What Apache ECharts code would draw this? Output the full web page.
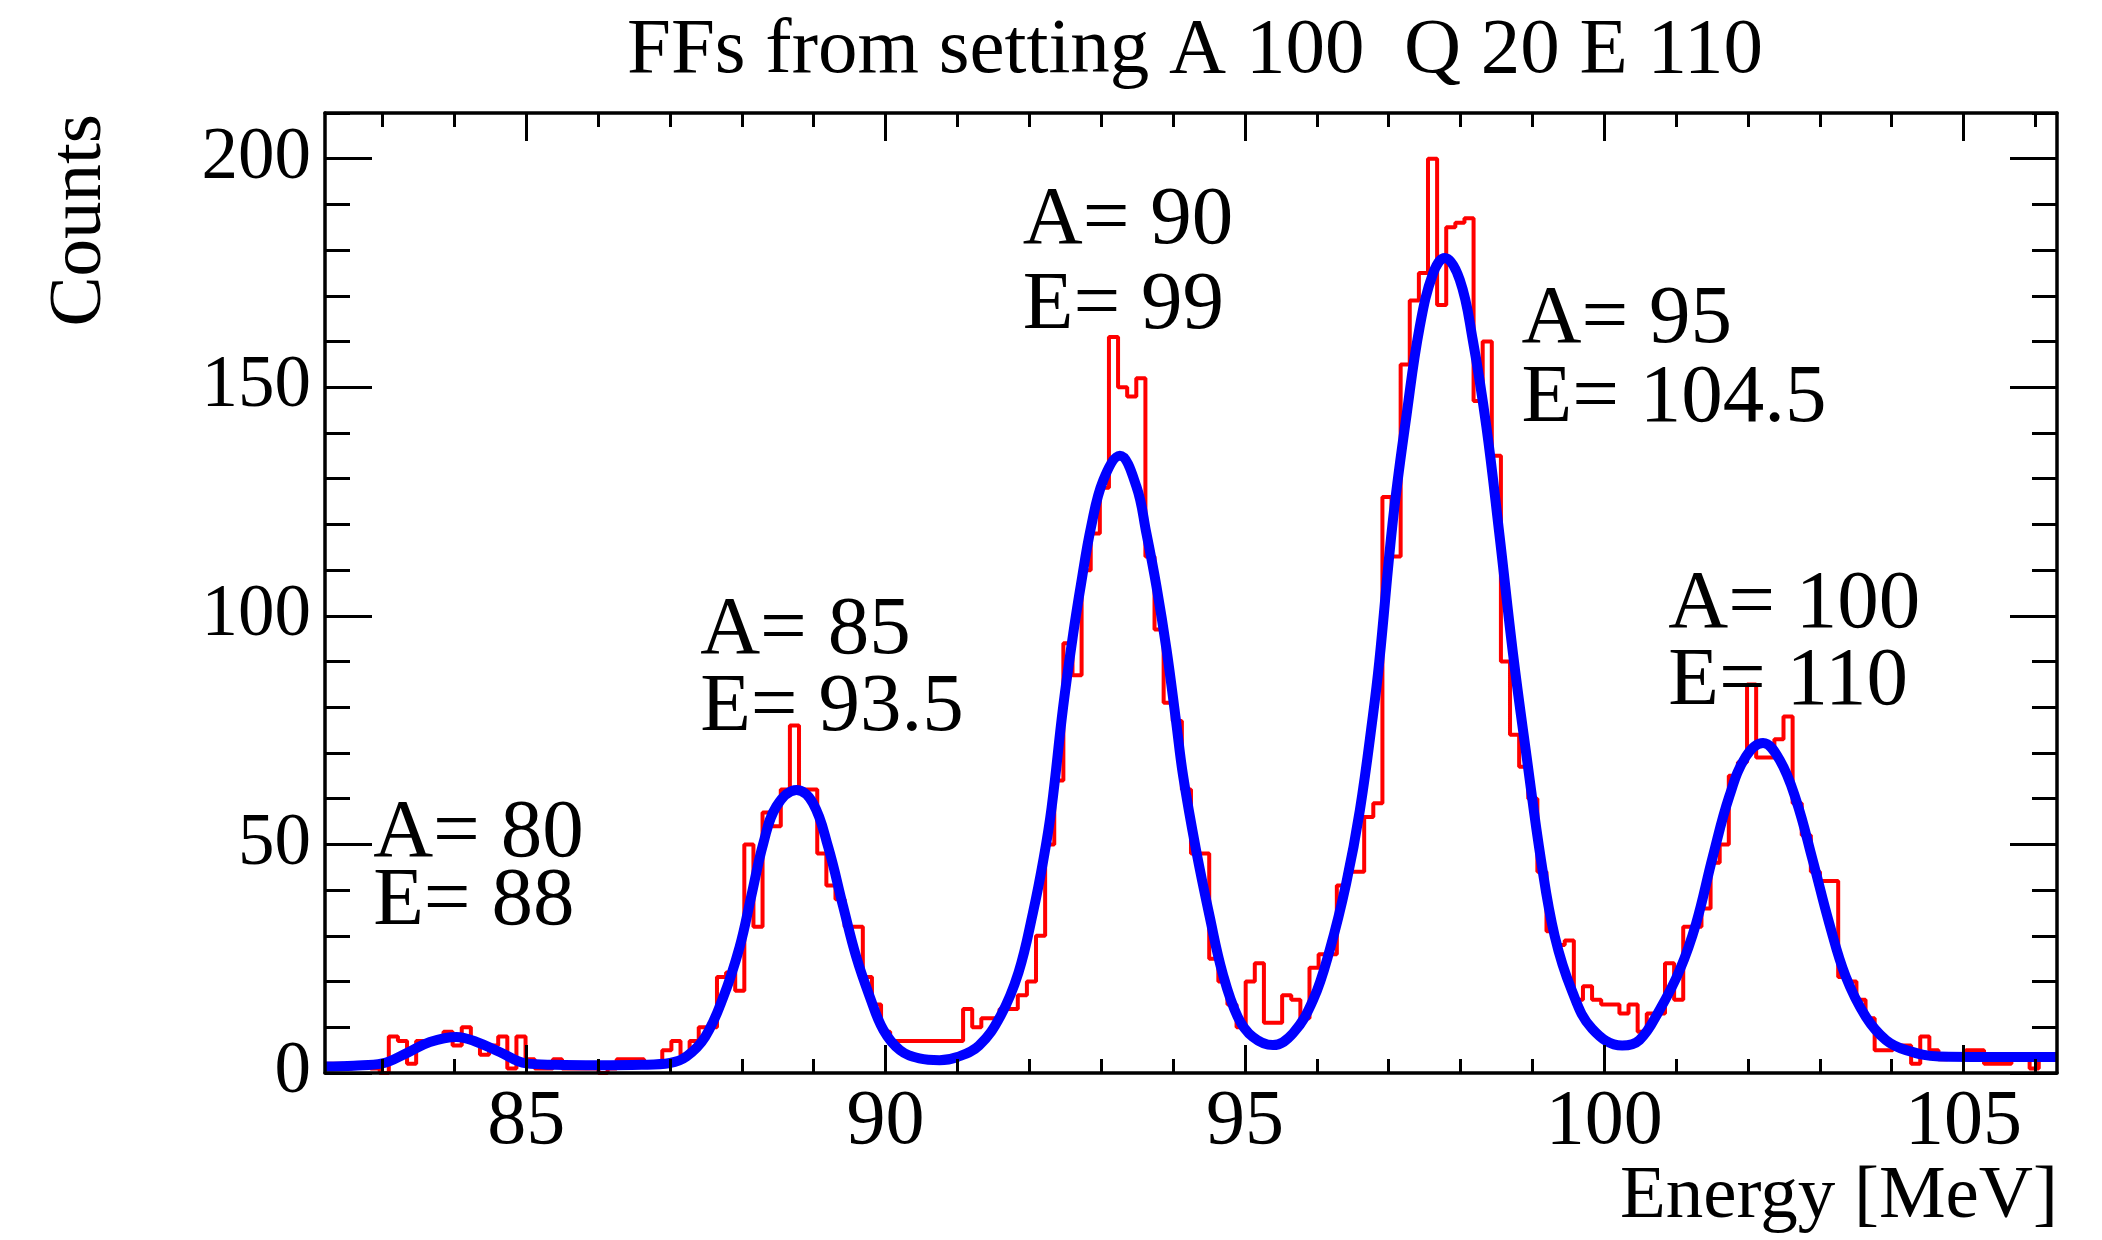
<!DOCTYPE html>
<html><head><meta charset="utf-8">
<script src="https://cdn.jsdelivr.net/npm/echarts@6/dist/echarts.min.js"></script>
<style>html,body{margin:0;padding:0;background:#fff}#c{width:2102px;height:1240px}</style>
</head><body><div id="c"></div>
<script>
// ---- data ----
const titleText = 'FFs from setting A 100  Q 20 E 110';
const xTitle = 'Energy [MeV]';
const yTitle = 'Counts';
const xMin = 82.2, xMax = 106.3;
const yMin = 0, yMax = 210;
const binStart = 82.2;
const binWidth = 0.12684;
const counts = [
 2,2,1,2,2,1,0,8,7,2, 7,7,7,9,6,10,7,4,6,8,
 1,8,3,1,1,3,1,1,1,1, 0,1,3,3,3,2,2,5,7,4,
 7,10,10,21,22,18,50,32,57,54, 62,76,62,62,48,41,38,32,32,21,
 15,9,7,7,7,7,7,7,7,7, 14,10,12,12,14,14,17,20,30,50,
 64,94,87,110,118,128,161,150,148,152, 113,97,81,77,62,48,48,25,20,15,
 10,20,24,11,11,17,16,12,23,26, 26,41,44,44,56,59,126,113,155,169,
 175,200,168,185,186,187,147,160,135,90, 74,67,60,44,31,28,29,16,19,16,
 15,15,13,15,9,13,13,24,16,32, 32,36,46,50,65,68,85,69,69,73,
 78,59,52,44,42,42,21,20,16,12, 5,5,6,6,2,8,5,3,4,4,
 5,5,2,2,2,3,3,1,3,3
];
const fitE = [82.2,82.6,83.0,83.33,83.66,84.03,84.31,84.63,85.0,85.4,86.0,86.6,87.0,87.23,87.49,87.74,87.97,88.13,88.30,88.48,88.76,88.99,89.2,89.41,89.59,89.78,89.97,90.2,90.47,90.75,91.0,91.3,91.6,91.85,92.05,92.2,92.31,92.47,92.61,92.72,92.86,93.03,93.26,93.49,93.63,93.77,93.91,94.04,94.14,94.32,94.51,94.69,94.9,95.11,95.39,95.67,95.95,96.18,96.41,96.6,96.78,96.87,97.06,97.25,97.43,97.62,97.78,97.99,98.17,98.36,98.54,98.73,98.92,99.12,99.31,99.55,99.83,100.25,100.49,100.77,101.05,101.28,101.51,101.74,101.97,102.21,102.44,102.67,102.9,103.13,103.36,103.64,103.92,104.2,104.66,105.3,106.3];
const fitCounts = [1.4,1.6,2.1,4.3,6.8,7.9,6.8,4.6,2.1,1.8,1.7,1.8,2.2,3.6,7.9,16.5,27.6,38.6,50.3,58.3,61.9,59,49.5,36.4,25.5,16.7,9.4,5,3.2,2.8,3.5,6,12.5,22,35,47,58,80,96,107,119.5,129.7,135,128.3,118,106.4,92.6,77.2,65,48.8,34.2,21.8,12.3,7.9,6.1,8.7,16,26.9,41.5,57.5,78,90,121,144,163,175,178.3,173.5,160.4,141.4,118,91.8,69.2,46.6,30,18,9.7,6,7.2,13.8,22.5,32.8,47.3,60.5,69.2,72.2,68.5,59.7,46.6,32.8,21.1,12.3,7.2,5,3.6,3.5,3.5];
const xMajorTicks = [85,90,95,100,105];
const xMinorTicks = [83,84,86,87,88,89,91,92,93,94,96,97,98,99,101,102,103,104,106];
const yMajorTicks = [0,50,100,150,200];
const yMinorTicks = [10,20,30,40,60,70,80,90,110,120,130,140,160,170,180,190,210];
const annotX = [82.87, 87.42, 91.91, 98.85, 100.89];
const annotAY = [52.3, 96.7, 186.3, 164.6, 102.3];
const annotEY = [37.4, 79.7, 167.8, 147.3, 85.4];
const annotA = ['A= 80','A= 85','A= 90','A= 95','A= 100'];
const annotEtxt = ['E= 88','E= 93.5','E= 99','E= 104.5','E= 110'];

// ---- build ----
const FONT = 'Liberation Serif';
const histData = counts.map((c, i) => [binStart + i * binWidth, c]);
histData.push([binStart + counts.length * binWidth, counts[counts.length - 1]]);
const fitData = fitE.map((e, i) => [e, fitCounts[i]]);
const annotData = [];
annotX.forEach((x, i) => {
  annotData.push({ value: [x, annotAY[i]], name: annotA[i] });
  annotData.push({ value: [x, annotEY[i]], name: annotEtxt[i] });
});

function xAx(pos, ticks, len, labels, line) {
  return {
    type: 'value', position: pos, min: xMin, max: xMax, z: 10,
    axisLine: { show: line, onZero: false, lineStyle: { color: '#000', width: 3.5 } },
    axisTick: { show: true, inside: true, length: len, customValues: ticks, lineStyle: { color: '#000', width: 3 } },
    axisLabel: labels ? { show: true, customValues: ticks, margin: 11, color: '#000', fontFamily: FONT, fontSize: 78 } : { show: false },
    splitLine: { show: false }
  };
}
function yAx(pos, ticks, len, labels, line) {
  return {
    type: 'value', position: pos, min: yMin, max: yMax, z: 10,
    axisLine: { show: line, onZero: false, lineStyle: { color: '#000', width: 3.5 } },
    axisTick: { show: true, inside: true, length: len, customValues: ticks, lineStyle: { color: '#000', width: 3 } },
    axisLabel: labels ? { show: true, customValues: ticks, margin: 14, color: '#000', fontFamily: FONT, fontSize: 73 } : { show: false },
    splitLine: { show: false }
  };
}

const chart = echarts.init(document.getElementById('c'), null, { renderer: 'canvas' });
chart.setOption({
  backgroundColor: '#fff',
  animation: false,
  grid: { left: 325, right: 45, top: 113, bottom: 167 },
  xAxis: [
    xAx('bottom', xMajorTicks, 28, true, true),
    xAx('bottom', xMinorTicks, 14, false, false),
    xAx('top', xMajorTicks, 28, false, true),
    xAx('top', xMinorTicks, 14, false, false)
  ],
  yAxis: [
    yAx('left', yMajorTicks, 47, true, true),
    yAx('left', yMinorTicks, 25, false, false),
    yAx('right', yMajorTicks, 47, false, true),
    yAx('right', yMinorTicks, 25, false, false)
  ],
  graphic: [
    { type: 'text', x: 1195, y: 51, style: { text: titleText, fill: '#000', fontFamily: FONT, fontSize: 79, align: 'center', verticalAlign: 'middle', textAlign: 'center', textVerticalAlign: 'middle' } },
    { type: 'text', x: 2058, y: 1197, style: { text: xTitle, fill: '#000', fontFamily: FONT, fontSize: 75, align: 'right', verticalAlign: 'middle', textAlign: 'right', textVerticalAlign: 'middle' } },
    { type: 'text', x: 80, y: 114, rotation: Math.PI / 2, style: { text: yTitle, fill: '#000', fontFamily: FONT, fontSize: 75, align: 'right', verticalAlign: 'middle', textAlign: 'right', textVerticalAlign: 'middle' } }
  ],
  series: [
    {
      type: 'line', name: 'hist', xAxisIndex: 0, yAxisIndex: 0, step: 'end',
      data: histData, symbol: 'none', z: 2,
      lineStyle: { color: '#ff0000', width: 4 }
    },
    {
      type: 'line', name: 'fit', xAxisIndex: 0, yAxisIndex: 0, smooth: 0.4,
      data: fitData, symbol: 'none', z: 3,
      lineStyle: { color: '#0000ff', width: 10 }
    },
    {
      type: 'scatter', name: 'annot', xAxisIndex: 0, yAxisIndex: 0, symbolSize: 0, z: 4,
      data: annotData,
      itemStyle: { opacity: 1, color: 'rgba(0,0,0,0)' },
      emphasis: { disabled: true },
      label: { show: true, opacity: 1, position: [0, 0], align: 'left', verticalAlign: 'middle', formatter: p => p.name, color: '#000', fontFamily: FONT, fontSize: 83 }
    }
  ]
});
</script></body></html>
